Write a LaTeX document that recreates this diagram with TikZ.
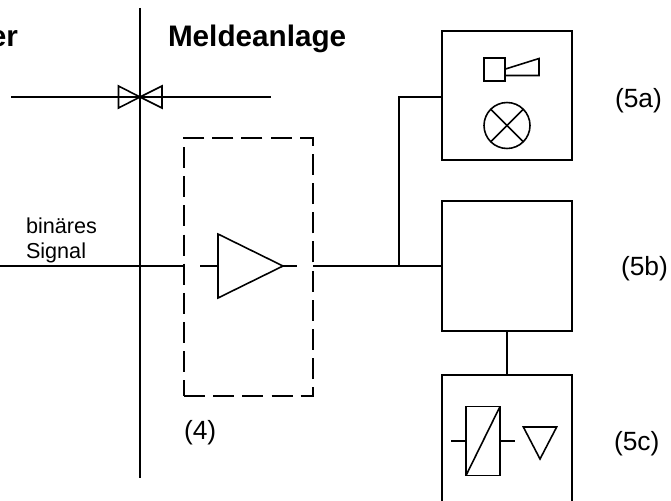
\documentclass[tikz,border=0pt]{standalone}
\usepackage{fontspec}
\setmainfont{Liberation Sans}
\usetikzlibrary{shapes.geometric}
\begin{document}
\begin{tikzpicture}[x=0.02cm,y=-0.02cm,inner sep=0pt,outer sep=0pt,line width=0.9pt,
sysblock/.style={draw,rectangle,minimum width=2.6cm,minimum height=2.58cm},
refmark/.style={font=\fontsize{15}{15}\selectfont},
smalltext/.style={font=\fontsize{12.3}{12.3}\selectfont},
headtext/.style={font=\fontsize{16.9}{16.9}\bfseries\selectfont}]
\useasboundingbox (0,0) rectangle (671,500);
% frames
\draw (507,95.5) node[sysblock] (A) {};
\draw (507,266) node[sysblock,minimum height=2.6cm] (B) {};
\draw (507,375) node[sysblock,anchor=north,minimum height=2.8cm] (C) {};
\draw (184,138) node[draw,dash pattern=on 12pt off 4.6pt,rectangle,anchor=north west,minimum width=2.58cm,minimum height=5.16cm] (frame) {};
% horn and lamp
\draw (494.5,69.5) node[draw,rectangle,minimum width=0.42cm,minimum height=0.46cm] (hornbox) {};
\coordinate (horn1) at (505.5,69);
\coordinate (horn2) at (539,58.5);
\coordinate (horn3) at (539,75.5);
\coordinate (horn4) at (505.5,75.5);
\draw (horn1) -- (horn2) -- (horn3) -- (horn4);
\draw (507,125.5) node[draw,circle,minimum size=0.92cm] (lamp) {};
\draw (lamp.45) -- (lamp.225);
\draw (lamp.135) -- (lamp.315);
% relay
\draw (483,441) node[draw,rectangle,minimum width=0.68cm,minimum height=1.38cm] (relay) {};
\draw (relay.south west) -- (relay.north east);
\coordinate (relayin) at (451,441);
\coordinate (relayout) at (515,441);
\draw (relayin) -- (relay.west);
\draw (relay.east) -- (relayout);
\draw (540,459) node[draw,isosceles triangle,isosceles triangle apex angle=55,shape border rotate=-90,anchor=apex,minimum height=0.64cm] (bell) {};
% amplifier
\draw (283,266) node[draw,isosceles triangle,isosceles triangle apex angle=52.4,anchor=apex,minimum height=1.3cm] (amp) {};
\coordinate (ampin) at (200,266);
\coordinate (ampout) at (297,266);
\draw (ampin) -- (amp.lower side);
\draw (amp.apex) -- (ampout);
% signal lines
\coordinate (start) at (0,266);
\coordinate (gapin) at (183.5,266);
\coordinate (gapout) at (313,266);
\coordinate (branch) at (399,266);
\coordinate (branchtop) at (399,97);
\draw (start) -- (gapin);
\draw (gapout) -- (B.west);
\draw (branch) -- (branchtop) -- (branchtop-|A.west);
\draw (B.south) -- (C.north);
% boundary
\coordinate (top) at (140,8);
\coordinate (bottom) at (140,478);
\coordinate (left) at (11,97);
\coordinate (right) at (271,97);
\coordinate (cross) at (140,97);
\draw (top) -- (bottom);
\draw (left) -- (right);
\draw (cross) -- (118.5,86) -- (118.5,108) -- cycle;
\draw (cross) -- (162,86) -- (162,108) -- cycle;
% labels
\node[headtext,anchor=base east] (side1) at (18,47) {er};
\node[headtext,anchor=base west] (side2) at (168,47) {Meldeanlage};
\node[smalltext,anchor=base west] (sig1) at (26,233) {binäres};
\node[smalltext,anchor=base west] (sig2) at (26,258) {Signal};
\node[refmark,anchor=base west] (m4) at (184,439) {(4)};
\node[refmark,anchor=base west] (m5a) at (615,107) {(5a)};
\node[refmark,anchor=base west] (m5b) at (621,275) {(5b)};
\node[refmark,anchor=base west] (m5c) at (614,450) {(5c)};
\end{tikzpicture}
\end{document}
